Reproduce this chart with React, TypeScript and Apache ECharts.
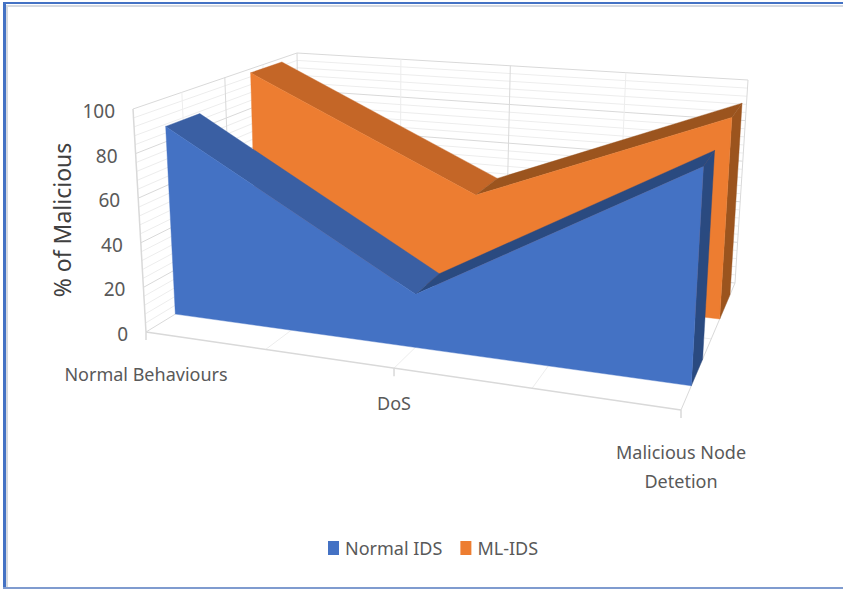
import React, { useEffect, useRef } from "react";
import * as echarts from "echarts";

// Chart content
const categories = ["Normal Behaviours", "DoS", "Malicious Node\nDetetion"];
const normalIds = [87, 23, 88];
const mlIds = [98, 46, 92];
const yAxisTicks = [0, 20, 40, 60, 80, 100];
const minorTicks = [4, 8, 12, 16, 24, 28, 32, 36, 44, 48, 52, 56, 64, 68, 72, 76, 84, 88, 92, 96];
const depthTicks = [0.25, 0.5, 0.75];
const categoryDivisions = [0.25, 0.5, 0.75];

// Depth band occupied by each series, 0 is the front of the box and 1 the back
const normalDepth = [0.156, 0.344];
const mlDepth = [0.665, 0.885];

// Perspective view of the box: screen position of its eight corners
const view = {
  frontLeftBottom: [146, 332],
  frontLeftTop: [133, 109],
  backLeftBottom: [300, 238],
  backLeftTop: [297, 53],
  frontRightBottom: [681, 410],
  frontRightTop: [695, 150],
  backRightBottom: [735, 283],
  backRightTop: [748, 80],
};
const depthFalloff = 0.786;
const widthFalloffFront = 1.157;
const widthFalloffBack = 1.114;

const lerp = (a: number, b: number, t: number) => a + (b - a) * t;
const warp = (t: number, k: number) => t / (t + (1 - t) * k);

// Maps box coordinates (across, depth, height), each 0..1, to the screen
function project(u: number, d: number, v: number): number[] {
  const dp = warp(d, depthFalloff);
  const up = warp(u, lerp(widthFalloffFront, widthFalloffBack, dp));
  const axis = (i: number) => {
    const front = lerp(
      lerp(view.frontLeftBottom[i], view.frontRightBottom[i], up),
      lerp(view.frontLeftTop[i], view.frontRightTop[i], up),
      v
    );
    const back = lerp(
      lerp(view.backLeftBottom[i], view.backRightBottom[i], up),
      lerp(view.backLeftTop[i], view.backRightTop[i], up),
      v
    );
    return lerp(front, back, dp);
  };
  return [axis(0), axis(1)];
}

// Normalises a data point through the cartesian scales of the hidden grid
function scaled(api: any, params: any, category: number, value: number) {
  const [px, py] = api.coord([category, value]);
  const cs = params.coordSys;
  return [(px - cs.x) / cs.width, (cs.y + cs.height - py) / cs.height];
}

const ribbon = (front: string, slopeDown: string, slopeUp: string, side: string, depth: number[]) =>
  (params: any, api: any) => {
    if (params.dataIndexInside !== 0) return { type: "group", children: [] };
    const pts = categories.map((_, i) => scaled(api, params, i, api.value(1, i)));
    const base = scaled(api, params, 0, 0)[1];
    const [d0, d1] = depth;
    const poly = (points: number[][], fill: string) => ({
      type: "polygon",
      silent: true,
      shape: { points },
      style: { fill, stroke: fill, lineWidth: 0.4 },
    });
    const top = (a: number[], b: number[], fill: string) =>
      poly(
        [project(a[0], d0, a[1]), project(a[0], d1, a[1]), project(b[0], d1, b[1]), project(b[0], d0, b[1])],
        fill
      );
    const last = pts[pts.length - 1];
    return {
      type: "group",
      children: [
        top(pts[0], pts[1], slopeDown),
        top(pts[1], pts[2], slopeUp),
        poly(
          [
            project(last[0], d0, last[1]),
            project(last[0], d1, last[1]),
            project(last[0], d1, base),
            project(last[0], d0, base),
          ],
          side
        ),
        poly(
          [
            project(pts[0][0], d0, base),
            ...pts.map((p) => project(p[0], d0, p[1])),
            project(last[0], d0, base),
          ],
          front
        ),
      ],
    };
  };

const seg = (a: number[], b: number[], stroke: string, lineWidth = 1) => ({
  type: "line",
  silent: true,
  shape: { x1: a[0], y1: a[1], x2: b[0], y2: b[1] },
  style: { stroke, lineWidth },
});

const MAJOR = "#D9D9D9";
const MINOR = "#EDEDED";

export default function App() {
  const ref = useRef<HTMLDivElement>(null);
  useEffect(() => {
    const chart = echarts.init(ref.current!, undefined, { renderer: "svg" });
    const hiddenFlat = { xAxisIndex: 0, yAxisIndex: 0, coordinateSystem: "cartesian2d" };
    const wallLines = (stroke: string, width: number) => (params: any, api: any) => {
      const v = scaled(api, params, 0, api.value(1))[1];
      return {
        type: "group",
        children: [
          seg(project(0, 0, v), project(0, 1, v), stroke, width),
          seg(project(0, 1, v), project(1, 1, v), stroke, width),
        ],
      };
    };
    chart.setOption({
      animation: false,
      textStyle: { fontFamily: "Noto Sans" },
      grid: { left: 100, right: 100, top: 100, bottom: 100 },
      xAxis: { type: "category", data: categories, boundaryGap: false, show: false },
      yAxis: { type: "value", min: 0, max: 100, interval: 20, show: false },
      legend: {
        data: ["Normal IDS", "ML-IDS"],
        left: 323,
        top: 534,
        icon: "rect",
        itemWidth: 11,
        itemHeight: 14,
        itemGap: 18,
        selectedMode: false,
        textStyle: { color: "#595959", fontSize: 18, padding: [0, 0, 0, 1] },
      },
      graphic: [
        { type: "rect", silent: true, shape: { x: 3, y: 2, width: 840, height: 2 }, style: { fill: "#4472C4" } },
        { type: "rect", silent: true, shape: { x: 6, y: 5, width: 837, height: 2 }, style: { fill: "#D5D9E0" } },
        { type: "rect", silent: true, shape: { x: 3, y: 2, width: 3, height: 587 }, style: { fill: "#4472C4" } },
        { type: "rect", silent: true, shape: { x: 6, y: 5, width: 2, height: 583 }, style: { fill: "#D5D9E0" } },
        { type: "rect", silent: true, shape: { x: 3, y: 587, width: 840, height: 2 }, style: { fill: "#7F9BCF" } },
        {
          type: "text",
          silent: true,
          x: 62,
          y: 220,
          rotation: Math.PI / 2,
          style: {
            text: "% of Malicious",
            fill: "#404040",
            fontSize: 23,
            fontFamily: "Noto Sans",
            align: "center",
            verticalAlign: "middle",
          },
        },
      ],
      series: [
        {
          ...hiddenFlat,
          type: "custom",
          silent: true,
          data: minorTicks.map((t) => [0, t]),
          renderItem: wallLines(MINOR, 1),
        },
        {
          ...hiddenFlat,
          type: "custom",
          silent: true,
          data: yAxisTicks.map((t) => [0, t]),
          renderItem: wallLines(MAJOR, 1),
        },
        {
          // Verticals on the walls and the lines across the floor
          ...hiddenFlat,
          type: "custom",
          silent: true,
          data: [[0, 0]],
          renderItem: () => ({
            type: "group",
            children: [
              ...depthTicks.flatMap((d) => [
                seg(project(0, d, 0), project(0, d, 1), d === 0.5 ? MAJOR : MINOR),
                seg(project(0, d, 0), project(1, d, 0), MINOR),
              ]),
              ...categoryDivisions.flatMap((u) => [
                seg(project(u, 1, 0), project(u, 1, 1), u === 0.5 ? MAJOR : MINOR),
                seg(project(u, 0, 0), project(u, 1, 0), MINOR),
              ]),
              seg(project(0, 0, 0), project(0, 0, 1), MAJOR, 1.5),
              seg(project(0, 1, 0), project(0, 1, 1), MAJOR),
              seg(project(1, 1, 0), project(1, 1, 1), MAJOR),
              seg(project(1, 0, 0), project(1, 1, 0), MAJOR),
              seg(project(0, 0, 0), project(1, 0, 0), MAJOR, 1.5),
              ...[0, 0.5, 1].map((u) => {
                const p = project(u, 0, 0);
                return seg(p, [p[0], p[1] + 8], MAJOR, 1.5);
              }),
            ],
          }),
        },
        {
          ...hiddenFlat,
          name: "ML-IDS",
          type: "custom",
          silent: true,
          itemStyle: { color: "#ED7D31" },
          data: mlIds.map((v, i) => [i, v]),
          renderItem: ribbon("#ED7D31", "#C46627", "#9B541E", "#9B541E", mlDepth),
        },
        {
          ...hiddenFlat,
          name: "Normal IDS",
          type: "custom",
          silent: true,
          itemStyle: { color: "#4472C4" },
          data: normalIds.map((v, i) => [i, v]),
          renderItem: ribbon("#4472C4", "#3A5FA3", "#2A4A80", "#2A4A80", normalDepth),
        },
        {
          // Value labels beside the front edge of the side wall
          ...hiddenFlat,
          type: "custom",
          silent: true,
          data: yAxisTicks.map((t) => [0, t]),
          renderItem: (params: any, api: any) => {
            const v = scaled(api, params, 0, api.value(1))[1];
            const p = project(0, 0, v);
            return {
              type: "text",
              silent: true,
              x: p[0] - 18,
              y: p[1] + 2,
              style: {
                text: String(api.value(1)),
                fill: "#595959",
                fontSize: 19,
                fontFamily: "Noto Sans",
                align: "right",
                verticalAlign: "middle",
              },
            };
          },
        },
        {
          // Category labels under the front edge of the floor
          ...hiddenFlat,
          type: "custom",
          silent: true,
          data: categories.map((_, i) => [i, 0]),
          renderItem: (params: any, api: any) => {
            const i = params.dataIndex;
            const p = project(scaled(api, params, i, 0)[0], 0, 0);
            return {
              type: "text",
              silent: true,
              x: p[0],
              y: p[1] + [42, 35, 56][i],
              style: {
                text: categories[i],
                fill: "#595959",
                fontSize: 18,
                lineHeight: 29,
                fontFamily: "Noto Sans",
                align: "center",
                verticalAlign: "middle",
              },
            };
          },
        },
      ],
    });
    return () => chart.dispose();
  }, []);
  return <div ref={ref} style={{ position: "absolute", left: 0, top: 0, width: 843, height: 589 }} />;
}
